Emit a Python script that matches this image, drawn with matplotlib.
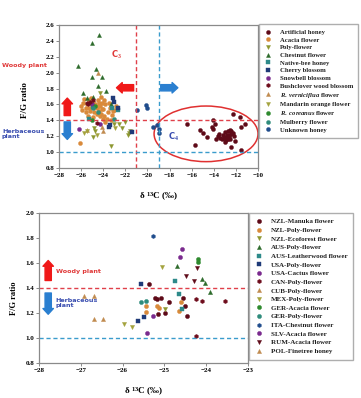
import matplotlib
matplotlib.use("Agg")
import matplotlib.pyplot as plt
from matplotlib.patches import Ellipse

plt.rcParams["font.family"] = "Liberation Serif"
plt.rcParams["font.weight"] = "bold"
plt.rcParams["mathtext.fontset"] = "custom"
plt.rcParams["mathtext.rm"] = "Liberation Serif:bold"
plt.rcParams["mathtext.it"] = "Liberation Serif:italic:bold"
plt.rcParams["mathtext.bf"] = "Liberation Serif:bold"

# ---------------- top panel data (Korean honeys) ----------------
artificial_x = [-16.4, -12.3, -11.6, -14.05, -11.2, -11.55, -15.25, -14.95, -14.2, -14.05, -14.6, -15.7,
                -12.4, -11.5, -13.6, -13.4, -13.2, -13.0, -12.8, -12.6, -12.4, -12.2, -13.3, -13.1, -12.9,
                -12.7, -12.5, -12.3, -12.85, -12.65, -12.45, -13.5, -12.95, -12.75, -12.55, -13.8, -13.9, -12.1]
artificial_y = [1.36, 1.48, 1.44, 1.40, 1.35, 1.31, 1.28, 1.24, 1.32, 1.29, 1.19, 1.09,
                1.07, 1.03, 1.20, 1.18, 1.22, 1.25, 1.21, 1.19, 1.23, 1.20, 1.16, 1.18, 1.15,
                1.27, 1.17, 1.24, 1.19, 1.22, 1.26, 1.23, 1.13, 1.16, 1.28, 1.17, 1.35, 1.14]
acacia_x = [-26.0, -25.8, -25.6, -25.5, -25.3, -25.2, -25.0, -24.9, -24.8, -24.7, -24.6, -24.5, -24.4,
            -24.3, -24.2, -24.1, -24.0, -23.9, -23.8, -23.6, -23.4, -23.2, -23.0, -22.8, -25.9, -25.7,
            -25.4, -25.1, -24.9, -24.6, -24.4, -24.2, -23.9, -23.7, -23.5, -23.3, -25.6, -25.0, -24.5,
            -24.1, -23.8, -24.8, -24.3, -25.3, -23.1, -26.1, -24.0]
acacia_y = [1.58, 1.62, 1.55, 1.60, 1.65, 1.52, 1.57, 1.63, 1.50, 1.60, 1.55, 1.66, 1.52,
            1.58, 1.48, 1.62, 1.54, 1.45, 1.60, 1.50, 1.56, 1.47, 1.53, 1.58, 1.53, 1.67,
            1.45, 1.68, 1.44, 1.48, 1.62, 1.70, 1.65, 1.42, 1.62, 1.40, 1.50, 1.61, 1.58,
            1.54, 1.38, 1.57, 1.46, 1.56, 1.52, 1.12, 1.42]
poly_x = [-24.3, -23.0, -22.55, -22.33, -24.8, -24.75, -24.9, -23.3, -21.58, -21.73, -21.65, -22.0]
poly_y = [1.75, 1.35, 1.35, 1.30, 1.30, 1.26, 1.19, 1.08, 1.27, 1.22, 1.24, 1.38]
chestnut_x = [-24.35, -24.99, -26.25, -24.65, -25.04, -24.08, -24.44, -23.78, -25.8, -25.5, -23.3, -24.9]
chestnut_y = [2.47, 2.37, 2.08, 2.04, 1.95, 1.95, 1.83, 1.77, 1.74, 1.68, 1.60, 1.70]
nativebee_x = [-22.64, -24.9, -25.3, -23.2]
nativebee_y = [1.53, 1.57, 1.42, 1.55]
cherry_x = [-23.1, -23.4, -23.45, -21.4, -23.0, -22.7]
cherry_y = [1.68, 1.34, 1.32, 1.25, 1.63, 1.55]
snowbell_x = [-26.2, -24.3, -25.0]
snowbell_y = [1.29, 1.36, 1.60]
bushclover_x = [-25.2, -25.5, -25.35, -24.9, -24.6]
bushclover_y = [1.63, 1.62, 1.60, 1.65, 1.37]
vernic_x = [-24.5, -23.99, -25.5, -24.1]
vernic_y = [2.00, 1.26, 1.28, 1.32]
mandarin_x = [-25.74, -25.5, -24.6, -22.9]
mandarin_y = [1.24, 1.26, 1.22, 1.30]
coreanus_x = [-25.0, -24.7]
coreanus_y = [1.40, 1.58]
mulberry_x = [-24.95, -24.5, -23.0]
mulberry_y = [1.55, 1.50, 1.42]
unknown_x = [-20.92, -20.13, -20.07, -19.47, -19.16, -19.0, -18.93]
unknown_y = [1.53, 1.59, 1.55, 1.32, 1.34, 1.29, 1.24]

top_series = [
    ("Artificial honey", artificial_x, artificial_y, "o", "#5e0a18"),
    ("Acacia flower", acacia_x, acacia_y, "o", "#d98a3a"),
    ("Poly-flower", poly_x, poly_y, "v", "#8c962e"),
    ("Chestnut flower", chestnut_x, chestnut_y, "^", "#2c6a2a"),
    ("Native-bee honey", nativebee_x, nativebee_y, "s", "#2d8a8a"),
    ("Cherry blossom", cherry_x, cherry_y, "s", "#1f3a78"),
    ("Snowbell blossom", snowbell_x, snowbell_y, "o", "#7a2a8e"),
    ("Bushclover wood blossom", bushclover_x, bushclover_y, "h", "#6e0c1c"),
    (r"$\mathit{R.\ verniciflua}$ flower", vernic_x, vernic_y, "^", "#c08a4e"),
    ("Mandarin orange flower", mandarin_x, mandarin_y, "v", "#a3a23c"),
    (r"$\mathit{R.\ coreanus}$ flower", coreanus_x, coreanus_y, "o", "#2e8a2e"),
    ("Mulberry flower", mulberry_x, mulberry_y, "o", "#2f8c7c"),
    ("Unknown honey", unknown_x, unknown_y, "o", "#1f4c8c"),
]

# ---------------- bottom panel data (imported honeys) ----------------
manuka_x = [-25.36, -25.17, -25.07, -24.88, -24.55, -24.51, -24.47, -24.98, -25.15, -25.22]
manuka_y = [1.43, 1.31, 1.32, 1.29, 1.32, 1.26, 1.18, 1.20, 1.19, 1.32]
nzlpoly_x = [-25.44, -25.44, -25.17, -24.60, -24.65, -25.12]
nzlpoly_y = [1.26, 1.21, 1.26, 1.29, 1.22, 1.24]
ecoforest_x = [-24.99]
ecoforest_y = [1.23]
auspoly_x = [-24.69, -24.11, -24.02, -23.91]
auspoly_y = [1.58, 1.47, 1.44, 1.37]
leather_x = [-24.74, -24.65, -24.59]
leather_y = [1.46, 1.35, 1.23]
usapoly_x = [-25.57, -25.64, -25.48]
usapoly_y = [1.43, 1.14, 1.17]
cactus_x = [-24.58, -24.63]
cactus_y = [1.71, 1.65]
canpoly_x = [-24.25, -24.11, -23.54, -24.25]
canpoly_y = [1.31, 1.30, 1.30, 1.02]
cubpoly_x = [-26.92, -26.68]
cubpoly_y = [1.34, 1.34]
mexpoly_x = [-25.97, -25.78, -25.06]
mexpoly_y = [1.11, 1.09, 1.57]
geracacia_x = [-24.20, -24.19]
geracacia_y = [1.61, 1.63]
gerpoly_x = [-25.57, -25.45]
gerpoly_y = [1.29, 1.30]
itachest_x = [-25.27]
itachest_y = [1.82]
slv_x = [-25.28, -25.41]
slv_y = [1.18, 1.04]
rum_x = [-24.49, -24.21, -24.28]
rum_y = [1.50, 1.56, 1.46]
pol_x = [-26.68, -26.48]
pol_y = [1.15, 1.15]

bottom_series = [
    ("NZL-Manuka flower", manuka_x, manuka_y, "o", "#5e0a18"),
    ("NZL-Poly-flower", nzlpoly_x, nzlpoly_y, "o", "#d98a3a"),
    ("NZL-Ecoforest flower", ecoforest_x, ecoforest_y, "v", "#8c962e"),
    ("AUS-Poly-flower", auspoly_x, auspoly_y, "^", "#2c6a2a"),
    ("AUS-Leatherwood flower", leather_x, leather_y, "s", "#2d8a8a"),
    ("USA-Poly-flower", usapoly_x, usapoly_y, "s", "#1f3a78"),
    ("USA-Cactus flower", cactus_x, cactus_y, "o", "#7a2a8e"),
    ("CAN-Poly-flower", canpoly_x, canpoly_y, "h", "#6e0c1c"),
    ("CUB-Poly-flower", cubpoly_x, cubpoly_y, "^", "#c08a4e"),
    ("MEX-Poly-flower", mexpoly_x, mexpoly_y, "v", "#a3a23c"),
    ("GER-Acacia flower", geracacia_x, geracacia_y, "o", "#2e8a2e"),
    ("GER-Poly-flower", gerpoly_x, gerpoly_y, "o", "#2f8c7c"),
    ("ITA-Chestnut flower", itachest_x, itachest_y, "h", "#1f4c8c"),
    ("SLV-Acacia flower", slv_x, slv_y, "o", "#7a2a8e"),
    ("RUM-Acacia flower", rum_x, rum_y, "v", "#5e0a18"),
    ("POL-Finetree honey", pol_x, pol_y, "^", "#c08a4e"),
]

RED = "#f01818"
BLUE = "#2a7fd0"
RED_LINE = "#e0404a"
BLUE_LINE = "#3a9ccc"
RED_TXT = "#e03a3a"
BLUE_TXT = "#3a4eb0"
GRAY = "#8a8a8a"

W, H = 361, 398
fig = plt.figure(figsize=(W / 100, H / 100), dpi=100)


def style_axes(ax):
    for sp in ax.spines.values():
        sp.set_color(GRAY)
        sp.set_linewidth(0.9)
    ax.tick_params(length=2, width=0.7, color=GRAY, labelsize=5, pad=1.5)
    for lab in ax.get_xticklabels() + ax.get_yticklabels():
        lab.set_fontweight("bold")


def block_arrow(ax, xy_from, xy_to, color, scale=7.5):
    ax.annotate("", xy=xy_to, xytext=xy_from,
                arrowprops=dict(arrowstyle="simple,head_length=0.55,head_width=1.0,tail_width=0.6",
                                color=color, shrinkA=0, shrinkB=0, mutation_scale=scale))


def add_legend(ax, x0, y_top, fs, spacing):
    leg = ax.legend(loc="upper left", bbox_to_anchor=(x0, y_top), bbox_transform=fig.transFigure,
                    fontsize=fs, frameon=True, fancybox=False, edgecolor="#9a9a9a",
                    labelspacing=spacing, handletextpad=1.1, handlelength=1.2,
                    borderpad=0.8, borderaxespad=0)
    leg.get_frame().set_linewidth(1.0)
    for t in leg.get_texts():
        t.set_fontweight("bold")
        t.set_color("#222222")
    return leg


# ---------------- top panel ----------------
ax1 = fig.add_axes([59 / W, 1 - 168 / H, 199 / W, 143 / H])
for name, xs, ys, mk, col in top_series:
    ax1.plot(xs, ys, linestyle="none", marker=mk, markersize=2.9, color=col,
             markeredgecolor=col, markeredgewidth=0.3, label=name)
ax1.set_xlim(-28, -10)
ax1.set_ylim(0.8, 2.6)
ax1.set_xticks(range(-28, -9, 2))
ax1.set_yticks([0.8, 1.0, 1.2, 1.4, 1.6, 1.8, 2.0, 2.2, 2.4, 2.6])
ax1.set_yticklabels([f"{v:.1f}" for v in ax1.get_yticks()])
ax1.axvline(-21, color=RED_LINE, linestyle="--", linewidth=1.0, dashes=(3, 2))
ax1.axvline(-19, color=BLUE_LINE, linestyle="--", linewidth=1.0, dashes=(3, 2))
ax1.axhline(1.4, color=RED_LINE, linestyle="--", linewidth=1.0, dashes=(3, 2))
ax1.axhline(1.0, color=BLUE_LINE, linestyle="--", linewidth=1.0, dashes=(3, 2))
ax1.add_patch(Ellipse((-14.7, 1.23), 9.4, 0.70, fill=False, edgecolor="#e03030", linewidth=1.1))
block_arrow(ax1, (-21.25, 1.81), (-22.8, 1.81), RED)
block_arrow(ax1, (-18.8, 1.81), (-17.25, 1.81), BLUE)
block_arrow(ax1, (-27.25, 1.46), (-27.25, 1.68), RED)
block_arrow(ax1, (-27.25, 1.38), (-27.25, 1.16), BLUE)
ax1.text(-22.8, 2.22, r"C$_3$", color=RED_TXT, fontsize=6, family="DejaVu Sans", fontweight="bold",
         ha="center", va="center")
ax1.text(-17.6, 1.19, r"C$_4$", color=BLUE_TXT, fontsize=6, family="DejaVu Sans", fontweight="bold",
         ha="center", va="center")
ax1.set_ylabel("F/G ratio", fontsize=6.5, fontweight="bold")
ax1.yaxis.set_label_coords(-0.15, 0.475)
ax1.set_xlabel(r"$\mathregular{\delta\ ^{13}C}$ (‰)", fontsize=6.5, fontweight="bold", labelpad=9)
style_axes(ax1)
fig.text(2 / W, 1 - 65 / H, "Woody plant", color=RED_TXT, fontsize=4.6, family="DejaVu Sans",
         fontweight="bold", va="center")
fig.text(2 / W, 1 - 134 / H, "Herbaceous\nplant", color=BLUE_TXT, fontsize=4.6, family="DejaVu Sans",
         fontweight="bold", va="center", linespacing=1.0)
add_legend(ax1, 259 / W, 1 - 24 / H, 4.8, 0.3)

# ---------------- bottom panel ----------------
ax2 = fig.add_axes([39 / W, 1 - 363 / H, 209 / W, 150 / H])
for name, xs, ys, mk, col in bottom_series:
    ax2.plot(xs, ys, linestyle="none", marker=mk, markersize=3.0, color=col,
             markeredgecolor=col, markeredgewidth=0.3, label=name)
ax2.set_xlim(-28, -23)
ax2.set_ylim(0.8, 2.0)
ax2.set_xticks(range(-28, -22))
ax2.set_yticks([0.8, 1.0, 1.2, 1.4, 1.6, 1.8, 2.0])
ax2.set_yticklabels([f"{v:.1f}" for v in ax2.get_yticks()])
ax2.axhline(1.4, color=RED_LINE, linestyle="--", linewidth=1.0, dashes=(3, 2))
ax2.axhline(1.0, color=BLUE_LINE, linestyle="--", linewidth=1.0, dashes=(3, 2))
block_arrow(ax2, (-27.78, 1.46), (-27.78, 1.62), RED)
block_arrow(ax2, (-27.78, 1.36), (-27.78, 1.19), BLUE)
ax2.text(-27.6, 1.53, "Woody plant", color=RED_TXT, fontsize=4.6, family="DejaVu Sans",
         fontweight="bold", va="center")
ax2.text(-27.6, 1.28, "Herbaceous\nplant", color=BLUE_TXT, fontsize=4.6, family="DejaVu Sans",
         fontweight="bold", va="center", linespacing=1.0)
ax2.set_ylabel("F/G ratio", fontsize=6, fontweight="bold")
ax2.yaxis.set_label_coords(-0.1, 0.43)
ax2.set_xlabel(r"$\mathregular{\delta\ ^{13}C}$ (‰)", fontsize=6.5, fontweight="bold", labelpad=9)
style_axes(ax2)
add_legend(ax2, 249 / W, 1 - 213 / H, 5.0, 0.4)

fig.savefig("out.png", dpi=100)
